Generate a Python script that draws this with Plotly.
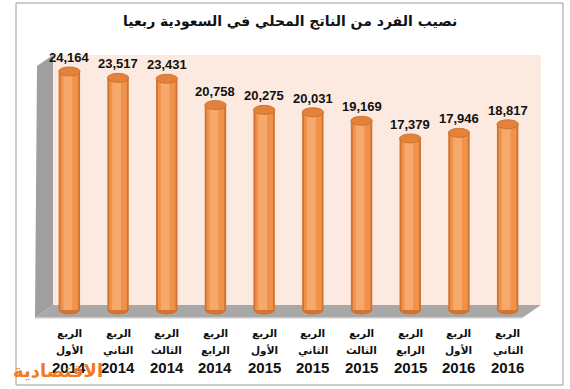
import plotly.graph_objects as go

# ---- data ----
quarter_word = ["الربع"] * 10
quarter_names = ["الأول", "الثاني", "الثالث", "الرابع",
                 "الأول", "الثاني", "الثالث", "الرابع",
                 "الأول", "الثاني"]
years = ["2014", "2014", "2014", "2014", "2015", "2015", "2015", "2015", "2016", "2016"]
values = [24164, 23517, 23431, 20758, 20275, 20031, 19169, 17379, 17946, 18817]
title_text = "نصيب الفرد من الناتج المحلي في السعودية ربعيا"
logo_text = "الاقتصادية"

# ---- layout geometry (pixels) ----
W, H = 570, 389
PL, PR, PT, PB = 45, 532, 55, 318   # plot area
pw, ph = PR - PL, PB - PT
ZERO_PX = 310
upp = 101.3                            # data units per pixel
ymin = -(PB - ZERO_PX) * upp
ymax = (ZERO_PX - PT) * upp

def px(x):
    return (x - PL) / pw

def py(y):
    return (PB - y) / ph

n = len(values)
xs = list(range(n))

fig = go.Figure()
fig.add_trace(go.Bar(x=xs, y=values, width=0.44, offset=-0.22,
                     marker=dict(color="#d27330", line=dict(width=0)), hoverinfo="skip"))
fig.add_trace(go.Bar(x=xs, y=values, width=0.36, offset=-0.18,
                     marker=dict(color="#f0924a", line=dict(width=0)), hoverinfo="skip"))
fig.add_trace(go.Bar(x=xs, y=values, width=0.18, offset=-0.12,
                     marker=dict(color="#f6a96c", line=dict(width=0)), hoverinfo="skip"))

shapes = []
shapes.append(dict(type="rect", xref="paper", yref="paper", x0=px(16), x1=px(563), y0=py(3), y1=py(385),
                   line=dict(color="#9a9a9a", width=1), fillcolor="rgba(0,0,0,0)", layer="below"))
shapes.append(dict(type="rect", xref="paper", yref="paper", x0=px(52), x1=px(541), y0=py(305), y1=py(55),
                   line=dict(width=0), fillcolor="#fce9df", layer="below"))
shapes.append(dict(type="path", xref="paper", yref="paper",
                   path=f"M {px(37)},{py(66)} L {px(53)},{py(55)} L {px(53)},{py(305)} L {px(35)},{py(318)} Z",
                   line=dict(width=0), fillcolor="#9f9f9f", layer="below"))
shapes.append(dict(type="path", xref="paper", yref="paper",
                   path=f"M {px(35)},{py(318)} L {px(522)},{py(318)} L {px(541)},{py(305)} L {px(53)},{py(305)} Z",
                   line=dict(width=0), fillcolor="#a8a8a8", layer="below"))
shapes.append(dict(type="line", xref="paper", yref="paper", x0=px(35), x1=px(522), y0=py(318), y1=py(318),
                   line=dict(color="#d9d9d9", width=1.5), layer="below"))

eh = 4.5 * upp
for i, v in enumerate(values):
    shapes.append(dict(type="circle", xref="x", yref="y", x0=i - 0.22, x1=i + 0.22, y0=-eh, y1=eh,
                       fillcolor="#d27330", line=dict(width=0), layer="below"))
    shapes.append(dict(type="circle", xref="x", yref="y", x0=i - 0.22, x1=i + 0.22, y0=v - eh, y1=v + eh,
                       fillcolor="#e3823a", line=dict(color="#c9692a", width=0.8), layer="above"))

AR = "DejaVu Sans, Arial"
NUM = "Arial, Liberation Sans, DejaVu Sans"
annotations = []
for i, v in enumerate(values):
    annotations.append(dict(x=i, y=v, xref="x", yref="y", text=f"<b>{v:,}</b>", showarrow=False,
                            yshift=14, yanchor="middle", font=dict(size=13, color="#111111", family=NUM)))
for i in xs:
    annotations.append(dict(x=i, xref="x", yref="paper", y=py(333), yanchor="middle",
                            text=f"<b>{quarter_word[i]}</b>",
                            showarrow=False, font=dict(size=10.5, color="#111111", family=AR)))
    annotations.append(dict(x=i, xref="x", yref="paper", y=py(350), yanchor="middle",
                            text=f"<b>{quarter_names[i]}</b>",
                            showarrow=False, font=dict(size=10.5, color="#111111", family=AR)))
    annotations.append(dict(x=i, xref="x", yref="paper", y=py(367), yanchor="middle",
                            text=f"<b>{years[i]}</b>",
                            showarrow=False, font=dict(size=15, color="#111111", family=NUM)))
annotations.append(dict(xref="paper", yref="paper", x=px(290), y=py(21), xanchor="center", yanchor="middle",
                        text=f"<b>{title_text}</b>",
                        showarrow=False, font=dict(size=14, color="#111111", family=AR)))
annotations.append(dict(xref="paper", yref="paper", x=px(11), y=py(370), xanchor="left", yanchor="middle",
                        text=f"<b>{logo_text}</b>",
                        showarrow=False, font=dict(size=18, color="#f07a22", family=AR)))

fig.update_layout(
    width=W, height=H,
    margin=dict(l=PL, r=W - PR, t=PT, b=H - PB, pad=0),
    paper_bgcolor="white", plot_bgcolor="rgba(0,0,0,0)",
    barmode="overlay", showlegend=False,
    shapes=shapes, annotations=annotations,
    xaxis=dict(range=[-0.5, n - 0.5], showticklabels=False,
               showgrid=False, zeroline=False, showline=False, ticks=""),
    yaxis=dict(range=[ymin, ymax], visible=False, showgrid=False, zeroline=False),
)

fig.write_html("out.html", config={"displayModeBar": False},
               post_script="document.body.style.margin='0';document.body.style.overflow='hidden';")
